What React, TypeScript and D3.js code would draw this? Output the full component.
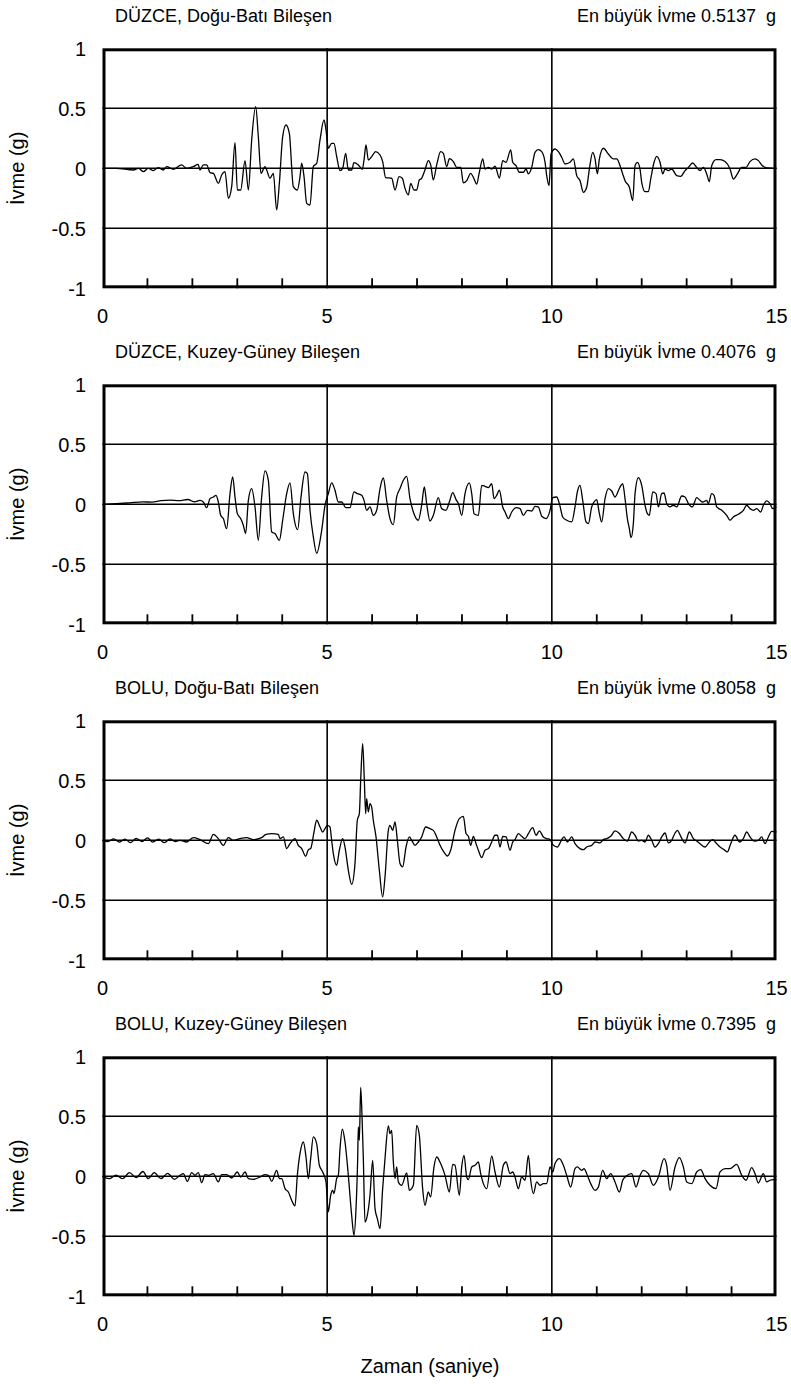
import React from 'react';
import * as d3 from 'd3';

type Pt = [number, number];

const timeTickLabels = [0, 5, 10, 15];
const accTickLabels = [1, 0.5, 0, -0.5, -1];
const gridAcc = [0.5, 0, -0.5];
const gridTime = [5, 10];
const minorTimeTicks = [1, 2, 3, 4, 6, 7, 8, 9, 11, 12, 13, 14];

const stationTitles = [
  'DÜZCE, Doğu-Batı Bileşen',
  'DÜZCE, Kuzey-Güney Bileşen',
  'BOLU, Doğu-Batı Bileşen',
  'BOLU, Kuzey-Güney Bileşen',
];
const peakValues = ['0.5137', '0.4076', '0.8058', '0.7395'];

const duzceEW: Pt[] = [
  [0, 0], [0.3, 0], [0.69, -0.014], [0.8, 0], [0.91, -0.028], [1.02, 0], [1.13, -0.019], [1.24, 0.006], [1.35, -0.014], [1.43, 0.014], [1.58, -0.008], [1.76, 0.028], [1.87, 0], [2.02, 0.014], [2.13, 0.033], [2.17, -0.014], [2.244, 0.028], [2.318, 0.028], [2.393, -0.036], [2.467, -0.042], [2.578, -0.125], [2.652, -0.056], [2.726, -0.028], [2.801, -0.25], [2.875, -0.153], [2.949, 0.214], [3.001, -0.181], [3.075, -0.181], [3.172, 0.064], [3.246, -0.181], [3.32, 0.236], [3.409, 0.514], [3.468, 0.264], [3.528, -0.042], [3.617, 0.014], [3.654, -0.014], [3.728, -0.083], [3.802, -0.042], [3.876, -0.347], [3.936, -0.125], [4.01, 0.264], [4.084, 0.361], [4.158, 0.292], [4.247, -0.153], [4.336, -0.181], [4.396, -0.069], [4.433, 0.042], [4.485, -0.069], [4.544, -0.292], [4.618, -0.306], [4.692, 0.014], [4.767, 0.042], [4.841, 0.236], [4.93, 0.403], [4.974, 0.319], [5.026, 0.167], [5.1, 0.208], [5.152, 0.208], [5.212, 0.097], [5.286, -0.019], [5.345, 0], [5.412, 0.125], [5.471, -0.014], [5.545, -0.014], [5.597, 0.047], [5.694, 0.028], [5.783, -0.008], [5.82, 0.069], [5.864, 0.194], [5.916, 0.069], [5.99, 0.097], [6.079, 0.139], [6.176, 0.111], [6.235, 0.056], [6.302, -0.078], [6.436, -0.083], [6.51, -0.181], [6.599, -0.069], [6.673, -0.083], [6.732, -0.167], [6.807, -0.222], [6.859, -0.125], [6.933, -0.181], [6.992, -0.181], [7.051, -0.097], [7.103, -0.083], [7.177, -0.014], [7.252, 0.064], [7.304, 0.028], [7.363, -0.097], [7.437, 0.028], [7.526, 0.139], [7.585, 0.125], [7.66, 0.014], [7.72, 0.08], [7.809, 0.056], [7.883, 0.008], [7.972, 0.008], [8.031, -0.122], [8.105, -0.103], [8.195, -0.042], [8.254, -0.075], [8.328, -0.131], [8.387, -0.033], [8.462, 0.078], [8.513, -0.006], [8.588, 0.008], [8.662, -0.006], [8.736, 0.017], [8.833, -0.081], [8.907, 0.064], [8.981, 0.05], [9.085, 0.153], [9.129, 0.05], [9.203, 0.022], [9.278, -0.033], [9.367, -0.033], [9.426, -0.006], [9.478, -0.047], [9.552, 0.008], [9.626, 0.133], [9.7, 0.156], [9.775, 0.139], [9.849, 0.05], [9.886, -0.061], [9.938, -0.144], [9.982, 0.119], [10.071, 0.161], [10.146, 0.139], [10.22, 0.092], [10.294, 0.036], [10.405, 0.05], [10.479, 0.078], [10.554, -0.061], [10.628, -0.103], [10.702, -0.2], [10.776, -0.158], [10.835, -0.006], [10.91, 0.133], [10.962, 0.078], [11.014, -0.047], [11.058, 0.078], [11.147, 0.167], [11.258, 0.119], [11.37, 0.078], [11.444, 0.078], [11.518, 0.022], [11.577, -0.047], [11.629, -0.103], [11.726, -0.158], [11.8, -0.269], [11.852, 0.022], [11.904, 0.05], [11.963, -0.006], [12.0, -0.117], [12.074, -0.194], [12.149, -0.194], [12.201, -0.089], [12.275, 0.05], [12.334, 0.1], [12.408, 0.05], [12.468, -0.047], [12.52, -0.006], [12.594, -0.019], [12.668, -0.006], [12.779, -0.061], [12.868, -0.067], [12.965, -0.019], [13.039, 0.008], [13.135, 0.044], [13.224, 0.008], [13.298, -0.019], [13.373, 0.008], [13.447, -0.047], [13.506, -0.111], [13.558, 0.022], [13.654, 0.072], [13.743, 0.072], [13.855, 0.056], [13.966, -0.006], [14.04, -0.089], [14.129, -0.047], [14.226, 0.008], [14.322, 0.008], [14.411, 0.056], [14.523, 0.078], [14.597, 0.064], [14.671, 0.028], [14.782, 0.003], [14.931, 0], [15, 0],
];

const duzceNS: Pt[] = [
  [0, 0], [0.3, 0.005], [0.6, 0.012], [0.9, 0.02], [1.1, 0.018], [1.3, 0.03], [1.5, 0.035], [1.7, 0.03], [1.9, 0.04], [2.05, 0.02], [2.17, 0.033], [2.244, 0.019], [2.318, -0.028], [2.393, 0.047], [2.467, 0.061], [2.526, 0.075], [2.578, 0.019], [2.63, -0.092], [2.689, -0.119], [2.763, -0.203], [2.838, 0.089], [2.897, 0.228], [2.949, 0.061], [3.001, -0.078], [3.075, -0.119], [3.134, -0.175], [3.186, -0.244], [3.246, 0.033], [3.32, 0.131], [3.394, -0.022], [3.468, -0.3], [3.542, 0.061], [3.617, 0.278], [3.691, 0.2], [3.765, -0.231], [3.839, -0.244], [3.936, -0.3], [4.01, -0.133], [4.099, 0.089], [4.173, 0.178], [4.247, -0.078], [4.343, -0.211], [4.418, 0.061], [4.507, 0.269], [4.559, 0.256], [4.618, -0.05], [4.692, -0.272], [4.767, -0.408], [4.878, -0.217], [4.952, -0.008], [5.026, 0.089], [5.1, 0.178], [5.174, 0.117], [5.248, 0.019], [5.323, 0.019], [5.412, -0.028], [5.508, -0.028], [5.597, 0.103], [5.671, 0.089], [5.768, 0.075], [5.82, 0.033], [5.879, -0.05], [5.953, -0.022], [6.027, -0.092], [6.102, -0.05], [6.176, 0.131], [6.25, 0.219], [6.324, 0.033], [6.398, -0.119], [6.472, -0.169], [6.547, 0.061], [6.621, 0.131], [6.695, 0.2], [6.769, 0.233], [6.843, 0.047], [6.918, -0.064], [7.029, -0.133], [7.103, -0.008], [7.162, 0.144], [7.214, 0.006], [7.288, -0.139], [7.363, -0.092], [7.474, 0.056], [7.548, -0.036], [7.644, -0.05], [7.719, 0.019], [7.794, 0.097], [7.868, 0.039], [7.92, 0.006], [7.994, -0.092], [8.068, 0.089], [8.165, 0.178], [8.217, 0.089], [8.269, -0.078], [8.365, -0.092], [8.439, 0.158], [8.513, 0.15], [8.588, 0.139], [8.662, 0.172], [8.714, 0.047], [8.773, 0.075], [8.832, 0.117], [8.907, -0.022], [8.959, -0.064], [9.033, -0.119], [9.107, -0.064], [9.203, -0.028], [9.292, -0.036], [9.367, -0.092], [9.456, -0.05], [9.552, -0.056], [9.626, -0.017], [9.7, -0.022], [9.775, -0.1], [9.871, -0.119], [9.96, -0.05], [10.019, 0.056], [10.108, 0.061], [10.168, 0.006], [10.242, -0.106], [10.331, -0.133], [10.442, -0.147], [10.516, -0.022], [10.568, 0.103], [10.627, 0.158], [10.687, 0.033], [10.761, -0.147], [10.813, -0.161], [10.887, -0.022], [10.939, 0.019], [10.998, 0.039], [11.058, -0.078], [11.11, -0.147], [11.184, 0.047], [11.258, 0.131], [11.332, 0.111], [11.406, 0.061], [11.518, 0.144], [11.577, 0.172], [11.629, 0.047], [11.681, -0.119], [11.725, -0.203], [11.762, -0.278], [11.814, -0.161], [11.852, 0.089], [11.926, 0.222], [12.0, 0.158], [12.074, -0.008], [12.126, -0.078], [12.17, -0.092], [12.245, 0.103], [12.319, 0.089], [12.371, -0.022], [12.445, 0.089], [12.497, 0.094], [12.556, 0.006], [12.63, -0.022], [12.705, -0.008], [12.779, -0.022], [12.89, 0.069], [12.964, 0.061], [13.039, 0.006], [13.128, -0.022], [13.224, 0.056], [13.298, 0.033], [13.357, 0.019], [13.446, 0.033], [13.483, 0.006], [13.558, 0.089], [13.61, 0.075], [13.669, -0.022], [13.78, -0.05], [13.892, -0.092], [13.966, -0.133], [14.04, -0.106], [14.151, -0.083], [14.263, -0.05], [14.337, -0.008], [14.411, -0.036], [14.485, -0.05], [14.559, -0.036], [14.648, -0.064], [14.707, -0.008], [14.782, 0.028], [14.856, 0.006], [14.915, -0.036], [15, -0.02],
];

const boluEW: Pt[] = [
  [0, 0], [0.12, -0.01], [0.25, 0.012], [0.38, -0.015], [0.5, 0.01], [0.62, -0.02], [0.75, 0.015], [0.88, -0.01], [1.0, 0.02], [1.12, -0.015], [1.25, 0.01], [1.38, -0.02], [1.5, 0.012], [1.62, -0.01], [1.725, 0], [1.873, -0.014], [2.022, 0.022], [2.17, 0.006], [2.356, -0.028], [2.467, 0.05], [2.578, 0.014], [2.689, -0.042], [2.801, 0.022], [2.912, 0], [3.06, 0.014], [3.209, 0.022], [3.357, 0.006], [3.542, 0.022], [3.639, 0.05], [3.765, 0.056], [3.913, 0.05], [3.95, 0.014], [4.025, 0.028], [4.099, -0.069], [4.173, -0.028], [4.284, 0.014], [4.358, -0.042], [4.433, -0.069], [4.522, -0.133], [4.581, -0.078], [4.633, -0.069], [4.707, 0.069], [4.766, 0.167], [4.841, 0.111], [4.9, 0.069], [4.952, 0.097], [5.004, 0.125], [5.063, 0.111], [5.1, 0], [5.137, -0.111], [5.211, -0.208], [5.271, -0.083], [5.345, 0.014], [5.397, -0.056], [5.471, -0.25], [5.545, -0.367], [5.619, -0.194], [5.671, 0.167], [5.716, 0.222], [5.746, 0.5], [5.79, 0.806], [5.827, 0.5], [5.857, 0.222], [5.879, 0.347], [5.916, 0.236], [5.953, 0.306], [5.99, 0.278], [6.027, 0.167], [6.087, 0.028], [6.161, -0.25], [6.235, -0.472], [6.287, -0.306], [6.361, 0.083], [6.398, 0.125], [6.458, 0.083], [6.51, 0.153], [6.562, 0], [6.621, -0.194], [6.68, -0.222], [6.755, -0.056], [6.829, 0.028], [6.881, 0], [6.955, -0.042], [7.029, -0.014], [7.103, 0.028], [7.192, 0.111], [7.289, 0.097], [7.363, 0.083], [7.437, 0.028], [7.511, -0.042], [7.622, -0.111], [7.674, -0.131], [7.748, -0.083], [7.845, 0.083], [7.941, 0.181], [8.031, 0.2], [8.091, 0.056], [8.143, 0.033], [8.194, -0.042], [8.254, 0.033], [8.313, -0.028], [8.365, -0.083], [8.439, -0.144], [8.513, -0.083], [8.588, -0.069], [8.662, -0.014], [8.736, 0.042], [8.788, 0.042], [8.847, -0.056], [8.907, 0.033], [8.981, 0.028], [9.07, -0.083], [9.129, -0.014], [9.181, 0.006], [9.255, 0.056], [9.329, 0.033], [9.404, 0.014], [9.478, 0.056], [9.574, 0.106], [9.648, 0.042], [9.723, 0.078], [9.812, 0.028], [9.886, 0.014], [9.96, 0.006], [10.034, -0.042], [10.123, -0.056], [10.22, 0.006], [10.272, 0.028], [10.346, -0.014], [10.442, 0.028], [10.516, -0.028], [10.627, -0.069], [10.702, -0.078], [10.776, -0.056], [10.887, -0.042], [10.961, -0.014], [11.073, -0.022], [11.147, 0.006], [11.221, 0.014], [11.31, 0.033], [11.406, 0.078], [11.503, 0.056], [11.592, 0.014], [11.681, -0.006], [11.777, 0.069], [11.852, 0.042], [11.926, -0.006], [12.0, 0], [12.074, -0.014], [12.148, 0.042], [12.222, 0], [12.297, -0.056], [12.371, -0.028], [12.445, 0.028], [12.519, 0.061], [12.593, -0.022], [12.668, 0], [12.742, 0.061], [12.794, 0.083], [12.868, 0.033], [12.964, -0.022], [13.061, 0.069], [13.15, 0.014], [13.224, -0.006], [13.298, -0.028], [13.41, -0.056], [13.506, -0.014], [13.58, 0.006], [13.654, -0.022], [13.743, -0.056], [13.832, -0.078], [13.906, -0.097], [13.981, -0.028], [14.077, 0.042], [14.173, -0.014], [14.262, 0.014], [14.337, 0.069], [14.411, 0.028], [14.5, -0.006], [14.596, 0], [14.67, 0.028], [14.745, -0.028], [14.819, 0.028], [14.893, 0.075], [15, 0.07],
];

const boluNS: Pt[] = [
  [0, 0], [0.15, -0.02], [0.3, 0.01], [0.45, -0.02], [0.6, 0.03], [0.75, -0.01], [0.9, 0.04], [1.02, -0.02], [1.15, 0.03], [1.3, -0.02], [1.45, 0.025], [1.6, -0.025], [1.725, 0.008], [1.799, 0.022], [1.888, -0.042], [1.985, 0.031], [2.059, 0.008], [2.133, 0.031], [2.207, -0.053], [2.281, 0.014], [2.356, 0.008], [2.467, 0.022], [2.578, -0.047], [2.652, 0.014], [2.764, 0.014], [2.875, -0.014], [3.001, 0.036], [3.075, -0.006], [3.172, 0.036], [3.246, -0.019], [3.357, -0.025], [3.505, -0.006], [3.617, 0.014], [3.691, 0.008], [3.765, -0.042], [3.876, 0.05], [3.936, -0.019], [3.988, -0.019], [4.062, -0.103], [4.136, -0.131], [4.21, -0.2], [4.284, -0.247], [4.336, 0.008], [4.395, 0.189], [4.47, 0.286], [4.529, 0.161], [4.581, -0.019], [4.633, 0.147], [4.692, 0.328], [4.766, 0.272], [4.826, 0.092], [4.9, 0.036], [4.974, -0.047], [5.026, -0.297], [5.078, -0.158], [5.122, -0.117], [5.152, -0.144], [5.211, -0.019], [5.249, 0.008], [5.286, 0.231], [5.338, 0.392], [5.397, 0.286], [5.471, 0.008], [5.545, -0.325], [5.597, -0.492], [5.642, -0.269], [5.679, 0.147], [5.694, 0.411], [5.716, 0.3], [5.746, 0.74], [5.775, 0.508], [5.805, 0.147], [5.842, -0.381], [5.894, -0.325], [5.953, -0.158], [6.013, 0.133], [6.065, -0.269], [6.117, -0.353], [6.176, -0.436], [6.235, -0.103], [6.287, 0.147], [6.361, 0.419], [6.398, 0.356], [6.435, 0.383], [6.473, 0.119], [6.51, -0.019], [6.547, 0.078], [6.584, -0.047], [6.658, -0.075], [6.769, 0.028], [6.829, -0.117], [6.918, -0.075], [6.992, 0.425], [7.051, 0.342], [7.125, -0.103], [7.177, -0.242], [7.251, -0.131], [7.303, -0.172], [7.377, 0.078], [7.437, 0.161], [7.526, 0.106], [7.622, 0.008], [7.719, -0.131], [7.793, 0.1], [7.845, 0.092], [7.941, -0.158], [7.994, 0.078], [8.046, 0.175], [8.105, -0.006], [8.143, -0.028], [8.217, 0.078], [8.291, 0.092], [8.365, 0.119], [8.417, 0.022], [8.476, -0.061], [8.551, -0.103], [8.662, 0.167], [8.736, 0.036], [8.832, -0.089], [8.921, 0.092], [8.981, 0.119], [9.07, 0.022], [9.129, 0.036], [9.181, -0.006], [9.255, -0.103], [9.329, -0.006], [9.404, -0.033], [9.478, 0.175], [9.53, -0.033], [9.589, -0.144], [9.663, -0.047], [9.737, -0.075], [9.812, -0.061], [9.886, -0.061], [9.96, 0.078], [10.019, 0.036], [10.071, 0.106], [10.168, 0.147], [10.257, 0.092], [10.331, 0.008], [10.42, -0.089], [10.516, 0.064], [10.568, 0.078], [10.665, 0.05], [10.717, 0.064], [10.776, 0.022], [10.865, -0.061], [10.961, -0.117], [11.036, -0.089], [11.132, 0.05], [11.221, -0.019], [11.31, 0.022], [11.406, -0.047], [11.503, -0.131], [11.577, -0.033], [11.651, 0], [11.777, 0.022], [11.874, -0.089], [11.963, 0.008], [12.037, 0.05], [12.148, 0.022], [12.259, -0.075], [12.371, -0.006], [12.497, 0.147], [12.556, 0.092], [12.63, -0.117], [12.742, 0.078], [12.838, 0.156], [12.927, 0.078], [13.001, -0.047], [13.113, -0.061], [13.224, 0.036], [13.313, 0.056], [13.41, -0.019], [13.52, -0.075], [13.654, -0.103], [13.743, 0.036], [13.855, 0.064], [13.966, 0.064], [14.114, 0.1], [14.226, 0.008], [14.322, -0.033], [14.448, 0.072], [14.522, 0.022], [14.596, -0.056], [14.707, 0.022], [14.782, -0.047], [14.856, -0.033], [14.93, -0.028], [15, -0.03],
];

const records: Pt[][] = [duzceEW, duzceNS, boluEW, boluNS];

const FONT = "'Liberation Sans', Arial, Helvetica, sans-serif";

export default function App() {
  const W = 791;
  const H = 1384;
  const left = 102.5;
  const right = 776.5;
  const firstTop = 48.3;
  const panelH = 240;
  const step = 336;

  const x = d3.scaleLinear().domain([0, 15]).range([left, right]);

  return (
    <svg
      width={W}
      height={H}
      viewBox={`0 0 ${W} ${H}`}
      style={{ position: 'absolute', left: 0, top: 0, background: '#fff' }}
      fontFamily={FONT}
    >
      <rect x={0} y={0} width={W} height={H} fill="#fff" />
      {records.map((data, i) => {
        const top = firstTop + step * i;
        const y = d3.scaleLinear().domain([-1, 1]).range([top + panelH, top]);
        const line = d3
          .line<Pt>()
          .x((d) => x(d[0]))
          .y((d) => y(d[1]))
          .curve(d3.curveMonotoneX);
        return (
          <g key={i}>
            {gridAcc.map((v) => (
              <line key={'h' + v} x1={left} x2={right} y1={y(v)} y2={y(v)} stroke="#000" strokeWidth={1.6} />
            ))}
            {gridTime.map((t) => (
              <line key={'v' + t} x1={x(t)} x2={x(t)} y1={top} y2={top + panelH} stroke="#000" strokeWidth={1.6} />
            ))}
            {minorTimeTicks.map((t) => (
              <line key={'m' + t} x1={x(t)} x2={x(t)} y1={top + panelH - 10} y2={top + panelH} stroke="#000" strokeWidth={1.8} />
            ))}
            <path d={line(data) || ''} fill="none" stroke="#000" strokeWidth={1.3} strokeLinejoin="round" />
            <rect
              x={left + 1.5}
              y={top + 1.5}
              width={right - left - 3}
              height={panelH - 3}
              fill="none"
              stroke="#000"
              strokeWidth={3}
            />
            {accTickLabels.map((v) => (
              <text key={'yl' + v} x={86} y={y(v)} dy="0.36em" textAnchor="end" fontSize={20} fill="#000">
                {v}
              </text>
            ))}
            {timeTickLabels.map((t) => (
              <text key={'xl' + t} x={x(t)} y={top + panelH + 35} textAnchor="middle" fontSize={20} fill="#000">
                {t}
              </text>
            ))}
            <text
              transform={`translate(24, ${top + panelH / 2}) rotate(-90)`}
              textAnchor="middle"
              fontSize={20}
              fill="#000"
            >
              İvme (g)
            </text>
            <text x={115} y={top - 26} fontSize={18} fill="#000">
              {stationTitles[i]}
            </text>
            <text x={776} y={top - 26} textAnchor="end" fontSize={18} fill="#000" style={{ whiteSpace: 'pre' }}>
              {`En büyük İvme ${peakValues[i]}  g`}
            </text>
          </g>
        );
      })}
      <text x={430} y={1373} textAnchor="middle" fontSize={20} fill="#000">
        Zaman (saniye)
      </text>
    </svg>
  );
}
